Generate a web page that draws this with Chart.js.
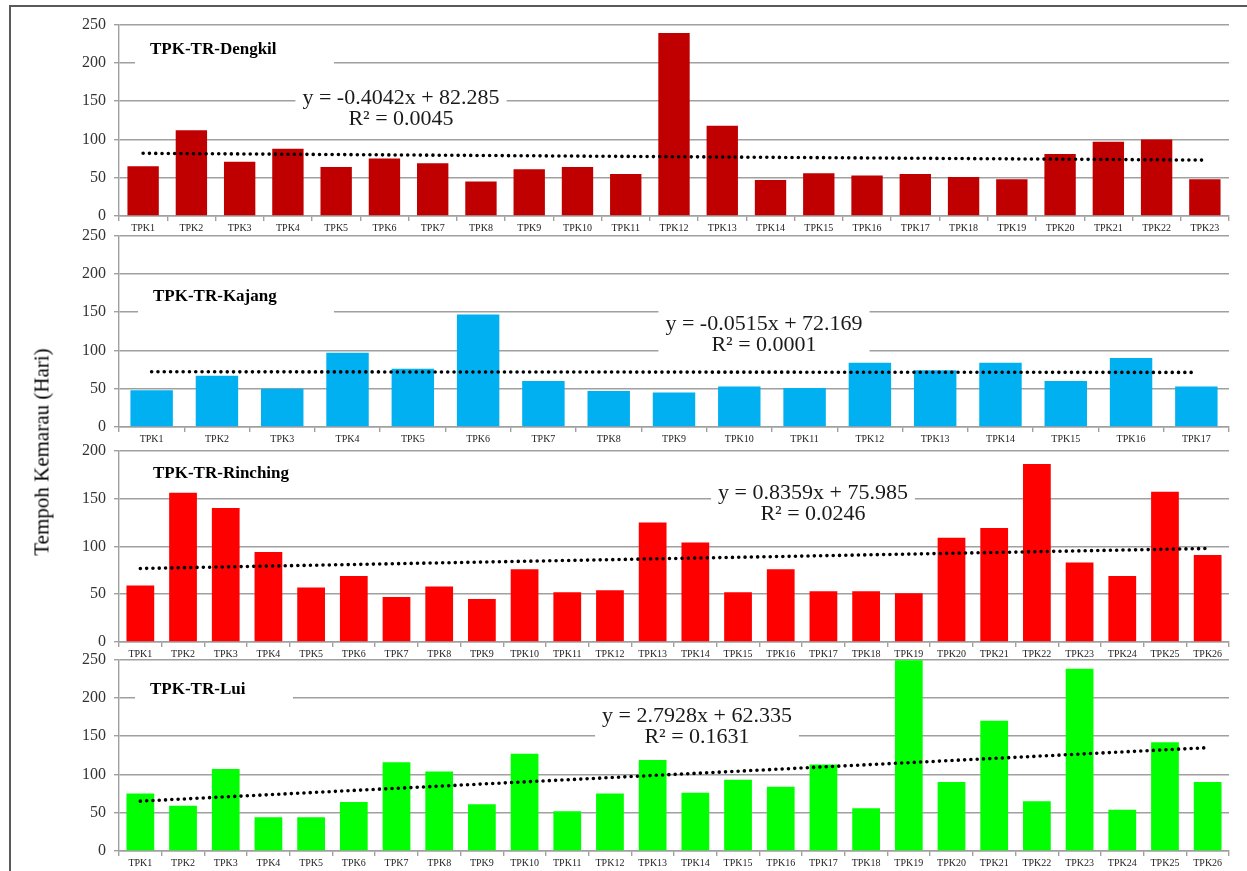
<!DOCTYPE html>
<html>
<head>
<meta charset="utf-8">
<script src="https://cdn.jsdelivr.net/npm/chart.js@4.4.0/dist/chart.umd.min.js"></script>
<style>
  body { margin: 0; background: #fff; width: 1247px; height: 871px; overflow: hidden; position: relative; }
  #frame { position: absolute; left: 9px; top: 5px; width: 1250px; height: 900px; border-left: 2px solid #5a5a5a; border-top: 2px solid #5a5a5a; }
  .panel { position: absolute; left: 20px; width: 1212px; height: 229px; }
  #ytitle { position: absolute; left: 42px; top: 452px; transform: translate(-50%, -50%) rotate(-90deg);
    font-family: 'Liberation Serif', serif; font-size: 21px; white-space: nowrap; color: #000; }
</style>
</head>
<body>
<div id="frame"></div>
<div class="panel" style="top:7px"><canvas id="c1"></canvas></div>
<div class="panel" style="top:218px"><canvas id="c2"></canvas></div>
<div class="panel" style="top:433px"><canvas id="c3"></canvas></div>
<div class="panel" style="top:642px"><canvas id="c4"></canvas></div>
<div id="ytitle">Tempoh Kemarau (Hari)</div>

<script>
// === Données ===
const tpkLabels = ["TPK1","TPK2","TPK3","TPK4","TPK5","TPK6","TPK7","TPK8","TPK9","TPK10","TPK11","TPK12","TPK13",
  "TPK14","TPK15","TPK16","TPK17","TPK18","TPK19","TPK20","TPK21","TPK22","TPK23","TPK24","TPK25","TPK26"];

const dengkilValues = [65,112,71,88,64,75,69,45,61,64,55,239,118,47,56,53,55,51,48,81,97,100,48];
const kajangValues = [48,67,50,97,76,147,60,47,45,53,51,84,74,84,60,90,53];
const rinchingValues = [59,156,140,94,57,69,47,58,45,76,52,54,125,104,52,76,53,53,51,109,119,186,83,69,157,91];
const luiValues = [75,59,107,44,44,64,116,104,61,127,52,75,119,76,93,84,113,56,249,90,170,65,238,54,142,90];

// pente / ordonnée de la courbe de tendance (affichées sur le graphique)
const dengkilTrend = [-0.4042, 82.285];
const kajangTrend = [-0.0515, 72.169];
const rinchingTrend = [0.8359, 75.985];
const luiTrend = [2.7928, 62.335];

const dengkilEq = ["y = -0.4042x + 82.285", "R² = 0.0045"];
const kajangEq = ["y = -0.0515x + 72.169", "R² = 0.0001"];
const rinchingEq = ["y = 0.8359x + 75.985", "R² = 0.0246"];
const luiEq = ["y = 2.7928x + 62.335", "R² = 0.1631"];

const FONT = "'Liberation Serif', 'Times New Roman', serif";
const GRID = "#a0a0a0";

// === Titre + équation avec fond blanc ===
const panelText = {
  id: "panelText",
  beforeDatasetsDraw(chart, args, opts) {
    const ctx = chart.ctx;
    ctx.save();
    ctx.textBaseline = "middle";
    // titre
    ctx.font = "bold 17px " + FONT;
    const tx = opts.titleX - opts.left, ty = opts.titleY - opts.top;
    ctx.fillStyle = "#fff";
    ctx.fillRect(tx - 15, ty - 17, opts.titleBoxR - opts.titleX + 15, 34);
    ctx.fillStyle = "#000";
    ctx.fillText(opts.title, tx, ty);
    // équation
    ctx.font = "22px " + FONT;
    const w = Math.max(...opts.eq.map(l => ctx.measureText(l).width));
    const ex = opts.eqX - opts.left, ey = opts.eqY - opts.top;
    ctx.fillStyle = "#fff";
    ctx.fillRect(ex - w / 2 - 7, ey - 14, w + 14, 48);
    ctx.fillStyle = "#1a1a1a";
    ctx.textAlign = "center";
    opts.eq.forEach((l, i) => ctx.fillText(l, ex, ey + i * 21));
    ctx.restore();
  }
};

function makePanel(id, top, values, color, yMax, trend, eq, title, pos) {
  const labels = tpkLabels.slice(0, values.length);
  const trendData = labels.map((_, i) => trend[0] * (i + 1) + trend[1]);

  return new Chart(document.getElementById(id), {
    type: "bar",
    data: {
      labels: labels,
      datasets: [
        {
          type: "line",
          data: trendData,
          borderColor: "#000",
          borderWidth: 3.6,
          borderDash: [0, 6.3],
          borderCapStyle: "round",
          pointRadius: 0,
          fill: false,
          order: 0
        },
        {
          data: values,
          backgroundColor: color,
          borderWidth: 0,
          barPercentage: 0.65,
          categoryPercentage: 1,
          order: 1
        }
      ]
    },
    options: {
      responsive: true,
      maintainAspectRatio: false,
      animation: false,
      layout: { padding: { top: 0, right: 3, left: 0, bottom: 0 } },
      plugins: {
        legend: { display: false },
        tooltip: { enabled: false },
        panelText: { left: 20, top: top, title: title, eq: eq, ...pos }
      },
      scales: {
        x: {
          afterFit: s => { s.height = 20; },
          grid: { drawOnChartArea: false, drawTicks: true, tickLength: 5, color: GRID, lineWidth: 1.4 },
          border: { color: GRID, width: 1.4 },
          ticks: { font: { family: FONT, size: 10 }, color: "#222", padding: 1, maxRotation: 0, autoSkip: false }
        },
        y: {
          min: 0,
          max: yMax,
          afterFit: s => { s.width = 99; },
          grid: { color: GRID, lineWidth: 1.4, tickLength: 5 },
          border: { color: GRID, width: 1.4 },
          ticks: { stepSize: 50, font: { family: FONT, size: 16 }, color: "#333", padding: 8 }
        }
      }
    },
    plugins: [panelText]
  });
}

makePanel("c1", 7, dengkilValues, "#c00000", 250, dengkilTrend, dengkilEq, "TPK-TR-Dengkil",
  { titleX: 150, titleY: 50, titleBoxR: 334, eqX: 401, eqY: 98 });
makePanel("c2", 218, kajangValues, "#00b0f0", 250, kajangTrend, kajangEq, "TPK-TR-Kajang",
  { titleX: 153, titleY: 297, titleBoxR: 334, eqX: 764, eqY: 324 });
makePanel("c3", 433, rinchingValues, "#ff0000", 200, rinchingTrend, rinchingEq, "TPK-TR-Rinching",
  { titleX: 153, titleY: 474, titleBoxR: 330, eqX: 813, eqY: 493 });
makePanel("c4", 642, luiValues, "#00ff00", 250, luiTrend, luiEq, "TPK-TR-Lui",
  { titleX: 150, titleY: 690, titleBoxR: 293, eqX: 697, eqY: 716 });
</script>
</body>
</html>
